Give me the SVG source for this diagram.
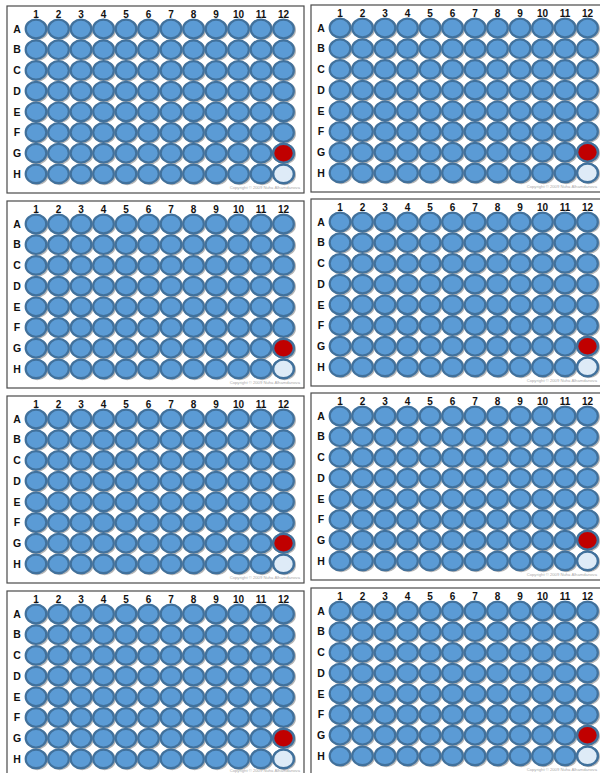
<svg xmlns="http://www.w3.org/2000/svg" xmlns:xlink="http://www.w3.org/1999/xlink" width="600" height="773" viewBox="0 0 600 773">
<style>
.frame{fill:#fff;stroke:#4a4a4a;stroke-width:1.2}
.num{font-family:"Liberation Sans",Arial,sans-serif;font-weight:bold;font-size:10px;fill:#111;text-anchor:middle}
.let{font-family:"Liberation Sans",Arial,sans-serif;font-weight:bold;font-size:10.5px;fill:#111;text-anchor:middle}
.copy{font-family:"Liberation Sans",Arial,sans-serif;font-size:4.2px;fill:#aaa;text-anchor:end}
</style>
<defs>
<g id="rowW">
<ellipse cx="29" cy="0" rx="10.3" ry="9.3"/><ellipse cx="51.5" cy="0" rx="10.3" ry="9.3"/><ellipse cx="74" cy="0" rx="10.3" ry="9.3"/><ellipse cx="96.5" cy="0" rx="10.3" ry="9.3"/><ellipse cx="119" cy="0" rx="10.3" ry="9.3"/><ellipse cx="141.5" cy="0" rx="10.3" ry="9.3"/><ellipse cx="164" cy="0" rx="10.3" ry="9.3"/><ellipse cx="186.5" cy="0" rx="10.3" ry="9.3"/><ellipse cx="209" cy="0" rx="10.3" ry="9.3"/><ellipse cx="231.5" cy="0" rx="10.3" ry="9.3"/><ellipse cx="254" cy="0" rx="10.3" ry="9.3"/><ellipse cx="276.5" cy="0" rx="10.3" ry="9.3"/>
</g>
<g id="row">
<use xlink:href="#rowW" x="1.2" y="1" fill="none" stroke="#b5b5b5" stroke-width="2"/>
<use xlink:href="#rowW" fill="#5b9bd5" stroke="#41719c" stroke-width="2.2"/>
</g>
<g id="wells">
<use xlink:href="#row" y="23"/>
<use xlink:href="#row" y="43.7"/>
<use xlink:href="#row" y="64.4"/>
<use xlink:href="#row" y="85.1"/>
<use xlink:href="#row" y="105.8"/>
<use xlink:href="#row" y="126.5"/>
<use xlink:href="#row" y="147.2"/>
<use xlink:href="#row" y="167.9"/>
<ellipse cx="276.5" cy="147.2" rx="10.3" ry="9.3" fill="#c00000" stroke="#41719c" stroke-width="2.2"/>
<ellipse cx="276.5" cy="167.9" rx="10.3" ry="9.3" fill="#deebf7" stroke="#41719c" stroke-width="2.2"/>
</g>
</defs>

<g id="plate-1" transform="translate(7,6)">
<rect class="frame" width="297" height="187"/>
<use xlink:href="#wells"/>
<text class="num" x="29" y="11.5">1</text><text class="num" x="51.5" y="11.5">2</text><text class="num" x="74" y="11.5">3</text><text class="num" x="96.5" y="11.5">4</text><text class="num" x="119" y="11.5">5</text><text class="num" x="141.5" y="11.5">6</text><text class="num" x="164" y="11.5">7</text><text class="num" x="186.5" y="11.5">8</text><text class="num" x="209" y="11.5">9</text><text class="num" x="231.5" y="11.5">10</text><text class="num" x="254" y="11.5">11</text><text class="num" x="276.5" y="11.5">12</text>
<text class="let" x="10" y="26.7">A</text><text class="let" x="10" y="47.4">B</text><text class="let" x="10" y="68.1">C</text><text class="let" x="10" y="88.8">D</text><text class="let" x="10" y="109.5">E</text><text class="let" x="10" y="130.2">F</text><text class="let" x="10" y="150.9">G</text><text class="let" x="10" y="171.6">H</text>
<text class="copy" x="293" y="183">Copyright © 2009 Nuha Alhamdanova</text>
</g>

<g id="plate-2" transform="translate(311,5)">
<rect class="frame" width="297" height="187"/>
<use xlink:href="#wells"/>
<text class="num" x="29" y="11.5">1</text><text class="num" x="51.5" y="11.5">2</text><text class="num" x="74" y="11.5">3</text><text class="num" x="96.5" y="11.5">4</text><text class="num" x="119" y="11.5">5</text><text class="num" x="141.5" y="11.5">6</text><text class="num" x="164" y="11.5">7</text><text class="num" x="186.5" y="11.5">8</text><text class="num" x="209" y="11.5">9</text><text class="num" x="231.5" y="11.5">10</text><text class="num" x="254" y="11.5">11</text><text class="num" x="276.5" y="11.5">12</text>
<text class="let" x="10" y="26.7">A</text><text class="let" x="10" y="47.4">B</text><text class="let" x="10" y="68.1">C</text><text class="let" x="10" y="88.8">D</text><text class="let" x="10" y="109.5">E</text><text class="let" x="10" y="130.2">F</text><text class="let" x="10" y="150.9">G</text><text class="let" x="10" y="171.6">H</text>
<text class="copy" x="286" y="183">Copyright © 2009 Nuha Alhamdanova</text>
</g>

<g id="plate-3" transform="translate(7,201)">
<rect class="frame" width="297" height="187"/>
<use xlink:href="#wells"/>
<text class="num" x="29" y="11.5">1</text><text class="num" x="51.5" y="11.5">2</text><text class="num" x="74" y="11.5">3</text><text class="num" x="96.5" y="11.5">4</text><text class="num" x="119" y="11.5">5</text><text class="num" x="141.5" y="11.5">6</text><text class="num" x="164" y="11.5">7</text><text class="num" x="186.5" y="11.5">8</text><text class="num" x="209" y="11.5">9</text><text class="num" x="231.5" y="11.5">10</text><text class="num" x="254" y="11.5">11</text><text class="num" x="276.5" y="11.5">12</text>
<text class="let" x="10" y="26.7">A</text><text class="let" x="10" y="47.4">B</text><text class="let" x="10" y="68.1">C</text><text class="let" x="10" y="88.8">D</text><text class="let" x="10" y="109.5">E</text><text class="let" x="10" y="130.2">F</text><text class="let" x="10" y="150.9">G</text><text class="let" x="10" y="171.6">H</text>
<text class="copy" x="293" y="183">Copyright © 2009 Nuha Alhamdanova</text>
</g>

<g id="plate-4" transform="translate(311,199)">
<rect class="frame" width="297" height="187"/>
<use xlink:href="#wells"/>
<text class="num" x="29" y="11.5">1</text><text class="num" x="51.5" y="11.5">2</text><text class="num" x="74" y="11.5">3</text><text class="num" x="96.5" y="11.5">4</text><text class="num" x="119" y="11.5">5</text><text class="num" x="141.5" y="11.5">6</text><text class="num" x="164" y="11.5">7</text><text class="num" x="186.5" y="11.5">8</text><text class="num" x="209" y="11.5">9</text><text class="num" x="231.5" y="11.5">10</text><text class="num" x="254" y="11.5">11</text><text class="num" x="276.5" y="11.5">12</text>
<text class="let" x="10" y="26.7">A</text><text class="let" x="10" y="47.4">B</text><text class="let" x="10" y="68.1">C</text><text class="let" x="10" y="88.8">D</text><text class="let" x="10" y="109.5">E</text><text class="let" x="10" y="130.2">F</text><text class="let" x="10" y="150.9">G</text><text class="let" x="10" y="171.6">H</text>
<text class="copy" x="286" y="183">Copyright © 2009 Nuha Alhamdanova</text>
</g>

<g id="plate-5" transform="translate(7,396)">
<rect class="frame" width="297" height="187"/>
<use xlink:href="#wells"/>
<text class="num" x="29" y="11.5">1</text><text class="num" x="51.5" y="11.5">2</text><text class="num" x="74" y="11.5">3</text><text class="num" x="96.5" y="11.5">4</text><text class="num" x="119" y="11.5">5</text><text class="num" x="141.5" y="11.5">6</text><text class="num" x="164" y="11.5">7</text><text class="num" x="186.5" y="11.5">8</text><text class="num" x="209" y="11.5">9</text><text class="num" x="231.5" y="11.5">10</text><text class="num" x="254" y="11.5">11</text><text class="num" x="276.5" y="11.5">12</text>
<text class="let" x="10" y="26.7">A</text><text class="let" x="10" y="47.4">B</text><text class="let" x="10" y="68.1">C</text><text class="let" x="10" y="88.8">D</text><text class="let" x="10" y="109.5">E</text><text class="let" x="10" y="130.2">F</text><text class="let" x="10" y="150.9">G</text><text class="let" x="10" y="171.6">H</text>
<text class="copy" x="293" y="183">Copyright © 2009 Nuha Alhamdanova</text>
</g>

<g id="plate-6" transform="translate(311,393)">
<rect class="frame" width="297" height="187"/>
<use xlink:href="#wells"/>
<text class="num" x="29" y="11.5">1</text><text class="num" x="51.5" y="11.5">2</text><text class="num" x="74" y="11.5">3</text><text class="num" x="96.5" y="11.5">4</text><text class="num" x="119" y="11.5">5</text><text class="num" x="141.5" y="11.5">6</text><text class="num" x="164" y="11.5">7</text><text class="num" x="186.5" y="11.5">8</text><text class="num" x="209" y="11.5">9</text><text class="num" x="231.5" y="11.5">10</text><text class="num" x="254" y="11.5">11</text><text class="num" x="276.5" y="11.5">12</text>
<text class="let" x="10" y="26.7">A</text><text class="let" x="10" y="47.4">B</text><text class="let" x="10" y="68.1">C</text><text class="let" x="10" y="88.8">D</text><text class="let" x="10" y="109.5">E</text><text class="let" x="10" y="130.2">F</text><text class="let" x="10" y="150.9">G</text><text class="let" x="10" y="171.6">H</text>
<text class="copy" x="286" y="183">Copyright © 2009 Nuha Alhamdanova</text>
</g>

<g id="plate-7" transform="translate(7,591)">
<rect class="frame" width="297" height="187"/>
<use xlink:href="#wells"/>
<text class="num" x="29" y="11.5">1</text><text class="num" x="51.5" y="11.5">2</text><text class="num" x="74" y="11.5">3</text><text class="num" x="96.5" y="11.5">4</text><text class="num" x="119" y="11.5">5</text><text class="num" x="141.5" y="11.5">6</text><text class="num" x="164" y="11.5">7</text><text class="num" x="186.5" y="11.5">8</text><text class="num" x="209" y="11.5">9</text><text class="num" x="231.5" y="11.5">10</text><text class="num" x="254" y="11.5">11</text><text class="num" x="276.5" y="11.5">12</text>
<text class="let" x="10" y="26.7">A</text><text class="let" x="10" y="47.4">B</text><text class="let" x="10" y="68.1">C</text><text class="let" x="10" y="88.8">D</text><text class="let" x="10" y="109.5">E</text><text class="let" x="10" y="130.2">F</text><text class="let" x="10" y="150.9">G</text><text class="let" x="10" y="171.6">H</text>
<text class="copy" x="293" y="181">Copyright © 2009 Nuha Alhamdanova</text>
</g>

<g id="plate-8" transform="translate(311,588)">
<rect class="frame" width="297" height="187"/>
<use xlink:href="#wells"/>
<text class="num" x="29" y="11.5">1</text><text class="num" x="51.5" y="11.5">2</text><text class="num" x="74" y="11.5">3</text><text class="num" x="96.5" y="11.5">4</text><text class="num" x="119" y="11.5">5</text><text class="num" x="141.5" y="11.5">6</text><text class="num" x="164" y="11.5">7</text><text class="num" x="186.5" y="11.5">8</text><text class="num" x="209" y="11.5">9</text><text class="num" x="231.5" y="11.5">10</text><text class="num" x="254" y="11.5">11</text><text class="num" x="276.5" y="11.5">12</text>
<text class="let" x="10" y="26.7">A</text><text class="let" x="10" y="47.4">B</text><text class="let" x="10" y="68.1">C</text><text class="let" x="10" y="88.8">D</text><text class="let" x="10" y="109.5">E</text><text class="let" x="10" y="130.2">F</text><text class="let" x="10" y="150.9">G</text><text class="let" x="10" y="171.6">H</text>
<text class="copy" x="286" y="183">Copyright © 2009 Nuha Alhamdanova</text>
</g>

<g id="connectors"/>
</svg>
